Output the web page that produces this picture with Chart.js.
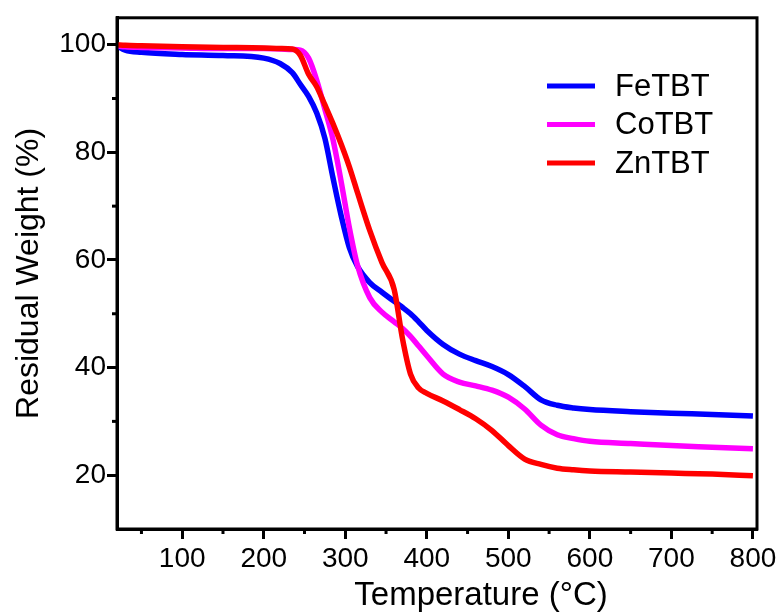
<!DOCTYPE html>
<html>
<head>
<meta charset="utf-8">
<script src="https://cdn.jsdelivr.net/npm/chart.js@4.4.1/dist/chart.umd.min.js"></script>
<style>
  html, body { margin: 0; padding: 0; background: #fff; }
  #wrap { width: 783px; height: 616px; }
</style>
</head>
<body>
<div id="wrap"><canvas id="tgaChart" width="783" height="616"></canvas></div>
<script>
// temperature grid (°C) shared by all curves
var temps = [20, 30, 50, 100, 150, 200, 220, 235, 245, 255, 265, 275, 285, 295, 305, 315, 330, 345, 360, 370, 380, 390, 400, 420, 440, 460, 480, 500, 520, 540, 560, 580, 600, 650, 700, 750, 800];

var feTBT = [99.8, 99.0, 98.6, 98.2, 98.0, 97.5, 96.5, 94.8, 92.6, 90.4, 87.3, 82.6, 75.2, 68.2, 62.3, 58.8, 55.8, 54.0, 52.3, 51.2, 50.0, 48.5, 46.9, 44.3, 42.5, 41.3, 40.2, 38.7, 36.5, 34.0, 33.0, 32.5, 32.2, 31.8, 31.5, 31.3, 31.0];
var coTBT = [99.8, 99.6, 99.5, 99.4, 99.3, 99.3, 99.2, 99.1, 99.0, 97.5, 93.4, 88.0, 82.3, 74.5, 66.0, 59.0, 53.0, 50.3, 48.5, 47.3, 45.8, 44.0, 42.2, 38.8, 37.3, 36.6, 35.8, 34.5, 32.3, 29.3, 27.5, 26.8, 26.3, 25.9, 25.5, 25.2, 24.9];
var znTBT = [100.0, 99.9, 99.8, 99.6, 99.5, 99.4, 99.3, 99.2, 98.0, 94.5, 92.2, 88.8, 85.3, 81.5, 77.3, 72.5, 65.5, 59.5, 54.5, 45.5, 38.8, 36.2, 35.2, 33.8, 32.2, 30.5, 28.3, 25.5, 23.0, 22.0, 21.3, 21.0, 20.8, 20.6, 20.4, 20.2, 19.9];

var seriesNames = ['FeTBT', 'CoTBT', 'ZnTBT'];
var seriesColors = ['#0000ff', '#ff00ff', '#ff0000'];

var xTicks = [100, 200, 300, 400, 500, 600, 700, 800];
var xMinor = [50, 150, 250, 350, 450, 550, 650, 750];
var yTicks = [20, 40, 60, 80, 100];
var yMinor = [30, 50, 70, 90];

var fontFamily = '"Liberation Sans", Arial, Helvetica, sans-serif';

function pairs(ys) {
    return temps.map(function (t, i) { return { x: t, y: ys[i] }; });
}

// frame, minor ticks, x title and legend
var decorations = {
    id: 'decorations',
    afterDraw: function (chart) {
        var ctx = chart.ctx,
            area = chart.chartArea,
            xs = chart.scales.x,
            ys = chart.scales.y;

        ctx.save();
        ctx.strokeStyle = '#000';
        ctx.lineWidth = 3;
        ctx.strokeRect(area.left, area.top, area.right - area.left, area.bottom - area.top);

        xMinor.forEach(function (v) {
            var px = xs.getPixelForValue(v);
            ctx.beginPath();
            ctx.moveTo(px, area.bottom);
            ctx.lineTo(px, area.bottom + 5);
            ctx.stroke();
        });
        yMinor.forEach(function (v) {
            var py = ys.getPixelForValue(v);
            ctx.beginPath();
            ctx.moveTo(area.left, py);
            ctx.lineTo(area.left - 5, py);
            ctx.stroke();
        });

        // x axis title
        ctx.fillStyle = '#000';
        ctx.font = '33px ' + fontFamily;
        ctx.textAlign = 'center';
        ctx.textBaseline = 'alphabetic';
        ctx.fillText('Temperature (\u00B0C)', 481, 605);

        // legend
        ctx.font = '31px ' + fontFamily;
        ctx.textAlign = 'left';
        ctx.textBaseline = 'middle';
        seriesNames.forEach(function (name, i) {
            var y = 86 + i * 38.5;
            ctx.strokeStyle = seriesColors[i];
            ctx.lineWidth = 5;
            ctx.beginPath();
            ctx.moveTo(547, y);
            ctx.lineTo(595, y);
            ctx.stroke();
            ctx.fillText(name, 615, y + 1);
        });
        ctx.restore();
    }
};

// red drawn first, blue last (on top) like the reference
var datasets = seriesNames.map(function (name, i) {
    return {
        label: name,
        data: pairs([feTBT, coTBT, znTBT][i]),
        borderColor: seriesColors[i],
        backgroundColor: seriesColors[i],
        borderWidth: 5.5,
        pointRadius: 0,
        cubicInterpolationMode: 'monotone',
        fill: false
    };
}).reverse();

var config = {
    type: 'line',
    data: { datasets: datasets },
    options: {
        responsive: false,
        animation: false,
        layout: { padding: { top: 13, right: 26, left: 0, bottom: 0 } },
        plugins: {
            legend: { display: false },
            tooltip: { enabled: false }
        },
        scales: {
            x: {
                type: 'linear',
                min: 20,
                max: 805,
                afterBuildTicks: function (scale) {
                    scale.ticks = xTicks.map(function (v) { return { value: v }; });
                },
                afterFit: function (scale) { scale.height = 87; },
                grid: {
                    drawOnChartArea: false,
                    drawTicks: true,
                    tickLength: 10,
                    tickWidth: 3,
                    tickColor: '#000'
                },
                border: { display: true, color: '#000', width: 3 },
                ticks: {
                    color: '#000',
                    padding: 3,
                    maxRotation: 0,
                    font: { family: fontFamily, size: 28 }
                }
            },
            y: {
                type: 'linear',
                min: 10,
                max: 105,
                afterBuildTicks: function (scale) {
                    scale.ticks = yTicks.map(function (v) { return { value: v }; });
                },
                afterFit: function (scale) { scale.width = 117; },
                grid: {
                    drawOnChartArea: false,
                    drawTicks: true,
                    tickLength: 10,
                    tickWidth: 3,
                    tickColor: '#000'
                },
                border: { display: true, color: '#000', width: 3 },
                ticks: {
                    color: '#000',
                    padding: 1,
                    font: { family: fontFamily, size: 28 }
                },
                title: {
                    display: true,
                    text: 'Residual Weight (%)',
                    color: '#000',
                    padding: { top: 10 },
                    font: { family: fontFamily, size: 32 }
                }
            }
        }
    },
    plugins: [decorations]
};

var tgaChart = new Chart(document.getElementById('tgaChart'), config);
</script>
</body>
</html>
